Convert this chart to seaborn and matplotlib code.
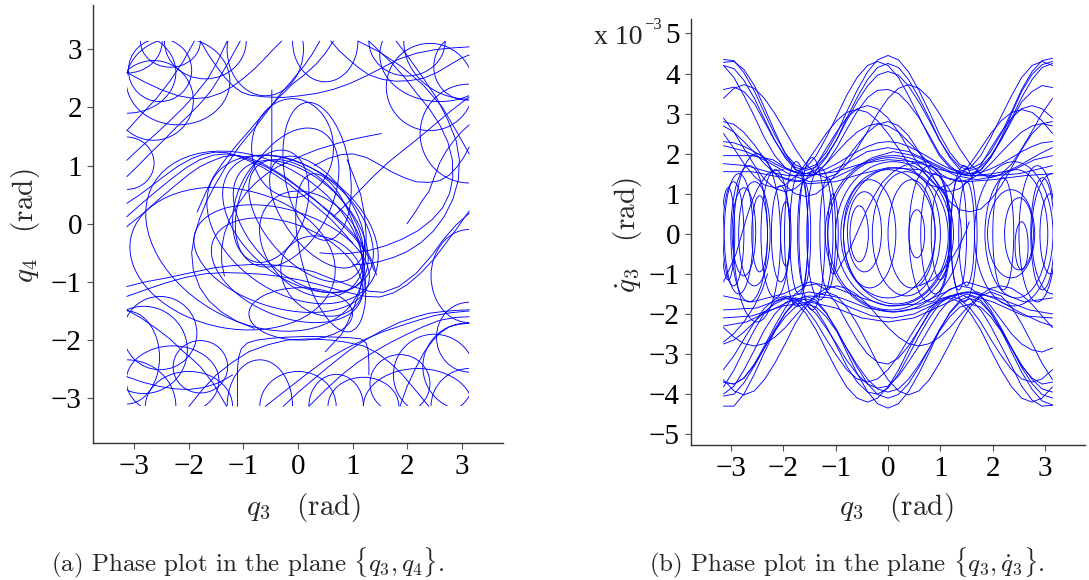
import numpy as np
import pandas as pd
import matplotlib
matplotlib.use("Agg")
import matplotlib.pyplot as plt
import seaborn as sns
from matplotlib.patches import Arc, Rectangle

# ============================================================ data (a)
# open trajectory pieces in the plane {q3, q4} (rad)
a_paths = [
    [(-3.14,-1.08),(-2.8,-1.0),(-2.4,-0.93),(-2.0,-0.85),(-1.55,-0.76),(-1.2,-0.72),(-0.82,-0.7),(-0.45,-0.71),(-0.09,-0.74),(0.3,-0.83),(0.65,-0.96),(1.0,-1.08),(1.3,-1.16),(1.56,-1.18),(1.85,-1.08),(2.17,-0.85),(2.45,-0.55),(2.66,-0.28),(2.9,-0.02),(3.14,0.18)],
    [(-3.14,-1.25),(-2.75,-1.12),(-2.4,-1.01),(-2.05,-0.92),(-1.7,-0.86),(-1.35,-0.84),(-1.0,-0.85),(-0.65,-0.87),(-0.3,-0.91),(0.05,-0.97),(0.4,-1.05),(0.7,-1.13),(1.0,-1.2),(1.25,-1.25),(1.5,-1.26),(1.75,-1.19),(2.0,-1.05),(2.25,-0.85),(2.5,-0.6),(2.7,-0.35),(2.9,-0.1),(3.14,0.22)],
    [(-3.14,0.12),(-2.9,0.32),(-2.65,0.52),(-2.35,0.75),(-2.04,0.97),(-1.8,1.1),(-1.55,1.18),(-1.3,1.2),(-1.06,1.16),(-0.8,1.07),(-0.57,0.97),(-0.33,0.84),(-0.09,0.69),(0.15,0.52),(0.4,0.34),(0.65,0.15),(0.89,-0.05),(1.1,-0.27),(1.26,-0.47),(1.38,-0.68),(1.44,-0.88)],
    [(-3.14,-0.05),(-2.85,0.17),(-2.6,0.38),(-2.3,0.62),(-2.0,0.85),(-1.8,0.98),(-1.6,1.07),(-1.38,1.15),(-1.15,1.18),(-0.92,1.14),(-0.7,1.06),(-0.45,0.93),(-0.2,0.78),(0.05,0.6),(0.3,0.42),(0.55,0.21),(0.8,-0.01),(1.02,-0.22),(1.2,-0.43),(1.33,-0.63),(1.4,-0.82)],
    [(-3.14,0.35),(-2.9,0.5),(-2.7,0.64),(-2.45,0.82),(-2.2,0.99),(-1.95,1.12),(-1.75,1.19),(-1.52,1.23),(-1.3,1.22),(-1.1,1.16),(-0.9,1.08),(-0.65,0.97),(-0.4,0.83),(-0.15,0.67),(0.1,0.48),(0.35,0.28),(0.6,0.08),(0.8,-0.12),(1.0,-0.33)],
    [(1.53,1.55),(1.25,1.5),(0.95,1.44),(0.65,1.36),(0.34,1.27),(0.1,1.18),(-0.15,1.08),(-0.37,0.98),(-0.57,0.86),(-0.78,0.7),(-0.95,0.53),(-1.12,0.31),(-1.25,0.08),(-1.35,-0.17),(-1.4,-0.42),(-1.4,-0.66),(-1.35,-0.9)],
    [(0.3,1.0),(0.55,1.12),(0.8,1.19),(1.01,1.2),(1.25,1.14),(1.45,1.04),(1.7,0.9),(1.95,0.79),(2.17,0.72),(2.4,0.71),(2.6,0.74),(2.78,0.84),(2.92,0.98),(3.04,1.14),(3.14,1.32)],
    [(0.65,0.12),(0.9,0.35),(1.15,0.59),(1.4,0.83),(1.65,1.05),(1.9,1.24),(2.17,1.44),(2.45,1.66),(2.78,1.92),(3.0,2.08),(3.14,2.18)],
    [(1.3,3.14),(1.5,2.96),(1.7,2.78),(1.95,2.52),(2.17,2.25),(2.42,1.96),(2.6,1.7),(2.75,1.4),(2.83,1.1),(2.84,0.8),(2.78,0.52),(2.65,0.27),(2.46,0.07),(2.2,-0.12),(1.9,-0.27),(1.6,-0.38),(1.3,-0.46),(0.95,-0.51),(0.65,-0.52),(0.4,-0.5)],
    [(1.8,3.14),(2.05,2.83),(2.3,2.5),(2.55,2.15),(2.75,1.78),(2.9,1.43),(2.96,1.1),(2.94,0.75),(2.84,0.42),(2.68,0.12),(2.48,-0.13),(2.25,-0.33),(2.0,-0.48),(1.75,-0.58),(1.5,-0.65),(1.25,-0.69),(1.0,-0.71)],
    [(-1.11,-3.14),(-1.11,-2.8),(-1.11,-2.5),(-1.09,-2.3),(-1.04,-2.15),(-0.93,-2.05),(-0.75,-2.0),(-0.5,-1.97),(-0.2,-1.95),(0.1,-1.94),(0.4,-1.94),(0.7,-1.95),(0.95,-1.96),(1.15,-1.98),(1.25,-2.05),(1.29,-2.2),(1.3,-2.4),(1.3,-2.6)],
    [(-0.27,-3.14),(0.0,-2.9),(0.34,-2.63),(0.65,-2.39),(0.95,-2.17),(1.25,-1.99),(1.56,-1.83),(1.85,-1.7),(2.17,-1.6),(2.4,-1.54),(2.66,-1.51),(2.9,-1.49),(3.14,-1.48)],
    [(-0.6,-3.14),(-0.3,-2.92),(0.0,-2.7),(0.25,-2.52),(0.5,-2.35),(0.85,-2.16),(1.2,-2.0),(1.55,-1.86),(1.9,-1.75),(2.2,-1.66),(2.5,-1.58),(2.8,-1.53),(3.14,-1.5)],
    [(-3.14,0.81),(-2.93,1.0),(-2.71,1.21),(-2.46,1.44),(-2.22,1.67),(-2.0,1.87),(-1.79,2.07),(-1.6,2.28),(-1.43,2.53),(-1.26,2.8),(-1.06,3.14)],
    [(-3.14,1.09),(-2.88,1.32),(-2.6,1.55),(-2.35,1.77),(-2.1,2.0),(-1.87,2.24),(-1.65,2.5),(-1.47,2.8),(-1.3,3.14)],
    [(-1.79,3.14),(-1.64,2.9),(-1.49,2.7),(-1.33,2.5),(-1.18,2.36),(-1.03,2.26),(-0.88,2.21),(-0.6,2.18),(-0.27,2.17),(0.04,2.2),(0.34,2.24),(0.65,2.31),(0.95,2.41),(1.25,2.54),(1.56,2.69),(1.85,2.83),(2.17,2.93),(2.5,2.99),(2.8,3.02),(3.14,3.04)],
    [(0.65,3.14),(0.5,2.93),(0.34,2.75),(0.13,2.57),(-0.09,2.41),(-0.33,2.19),(-0.57,1.95),(-0.76,1.75),(-0.94,1.55),(-1.1,1.38),(-1.25,1.21),(-1.4,1.02),(-1.55,0.81),(-1.7,0.52),(-1.85,0.2)],
    [(0.4,3.14),(0.25,2.9),(0.1,2.7),(-0.12,2.45),(-0.35,2.2),(-0.55,1.95),(-0.75,1.7),(-0.93,1.5),(-1.1,1.3),(-1.3,1.02),(-1.5,0.7),(-1.67,0.4),(-1.8,0.1),(-1.9,-0.2),(-1.95,-0.5),(-1.92,-0.8),(-1.8,-1.1),(-1.63,-1.33),(-1.4,-1.52),(-1.12,-1.68),(-0.8,-1.8)],
    [(0.9,1.1),(1.03,0.8),(1.15,0.5),(1.22,0.15),(1.25,-0.2),(1.24,-0.55),(1.2,-0.9),(1.12,-1.2),(1.0,-1.5),(0.9,-1.72),(0.8,-1.9),(0.65,-2.05),(0.5,-2.2)],
    [(1.87,-3.14),(2.0,-2.8),(2.17,-2.46),(2.32,-2.2),(2.48,-2.0),(2.62,-1.87),(2.78,-1.77),(2.95,-1.73),(3.14,-1.71)],
    [(-3.14,-1.48),(-2.88,-1.62),(-2.6,-1.8),(-2.35,-1.98),(-2.1,-2.2),(-1.95,-2.32),(-1.79,-2.46),(-1.55,-2.75),(-1.31,-3.14)],
    [(-3.14,-2.63),(-2.83,-2.73),(-2.53,-2.8),(-2.25,-2.84),(-2.0,-2.85),(-1.75,-2.82),(-1.5,-2.75),(-1.35,-2.68),(-1.2,-2.6)],
    [(-0.48,2.3),(-0.48,1.8),(-0.48,1.3),(-0.5,0.9)],
    [(0.6,3.14),(0.75,2.98),(0.9,2.85),(1.1,2.69),(1.3,2.56),(1.55,2.48),(1.8,2.45),(2.05,2.46),(2.3,2.5),(2.55,2.6),(2.8,2.74),(3.0,2.85),(3.14,2.9)],
    [(-3.14,2.6),(-2.8,2.43),(-2.5,2.3),(-2.2,2.2),(-1.9,2.15),(-1.65,2.17),(-1.4,2.25),(-1.2,2.36),(-1.0,2.5),(-0.8,2.66),(-0.6,2.85),(-0.45,3.0),(-0.3,3.14)],
    [(-2.0,-3.14),(-1.75,-2.85),(-1.5,-2.6),(-1.2,-2.38),(-0.9,-2.2),(-0.55,-2.08),(-0.2,-2.0),(0.2,-1.98),(0.6,-2.0),(0.9,-2.04),(1.2,-2.1),(1.45,-2.22),(1.7,-2.4),(1.9,-2.58),(2.1,-2.8),(2.25,-2.97),(2.4,-3.14)],
    [(0.2,-3.14),(0.5,-2.86),(0.8,-2.6),(1.1,-2.38),(1.4,-2.2),(1.7,-2.04),(2.0,-1.9),(2.3,-1.77),(2.6,-1.66),(2.9,-1.61),(3.14,-1.6)],
    [(2.0,0.0),(2.15,0.2),(2.28,0.4),(2.4,0.55),(2.5,0.8),(2.6,1.05),(2.72,1.25),(2.85,1.42),(3.0,1.58),(3.14,1.7)],
    [(-3.14,1.6),(-2.85,1.9),(-2.6,2.15),(-2.35,2.45),(-2.1,2.8),(-1.9,3.14)],
    [(1.1,3.14),(1.5,2.95),(1.9,2.7),(2.3,2.38),(2.65,2.0),(2.9,1.6),(3.14,1.2)],
]
# loops / arcs of plot (a): centre q3, centre q4, width, height, tilt (deg)
a_loop_q3 = [0.00, 0.05, 0.15, -0.10, 0.35, 0.25, -0.30, -0.20, 0.05, -0.10, 0.35, 0.60, -0.50, -0.80, -0.20, 0.45, -1.20,
             -2.53, -2.65, -2.34, -3.14, -3.14, -2.20, -1.70, -3.14,
             2.42, 3.09, 3.14, 2.00, 2.60, 3.14,
             -2.53, -2.83, -3.14, -1.79, -2.30, -3.14, -2.00,
             3.09, 2.50, 1.87, 3.14, 3.14, 2.20, 1.20, 3.14,
             -0.60, 0.50, 0.00, -0.70, 0.70]
a_loop_q4 = [0.00, -0.05, 0.05, -0.10, 0.20, -0.35, -0.60, -0.80, -1.55, 1.30, 0.90, -0.50, 0.30, -0.30, 0.45, -0.90, -0.60,
             2.64, 2.12, 3.14, 1.04, 2.60, 2.45, 3.14, 3.14,
             2.35, 2.70, 1.55, 3.14, 2.90, 3.14,
             -1.88, -2.17, -2.30, -2.46, -2.70, -3.14, -3.14,
             -2.46, -2.60, -2.75, -1.95, -0.90, -3.14, -3.14, -3.14,
             3.00, 3.14, -3.14, -3.14, -3.14]
a_loop_w = [3.1, 2.9, 2.6, 3.4, 2.3, 2.1, 3.3, 2.9, 1.9, 1.5, 1.2, 1.1, 1.3, 4.2, 1.6, 1.6, 3.8,
            1.16, 1.46, 1.1, 1.0, 1.8, 1.9, 1.5, 1.3,
            1.6, 1.2, 1.8, 1.4, 2.2, 2.4,
            1.35, 1.6, 1.2, 1.0, 1.7, 1.8, 1.6,
            1.6, 1.5, 1.1, 1.2, 1.4, 2.0, 1.3, 1.4,
            1.4, 1.2, 1.4, 1.2, 1.0]
a_loop_h = [1.9, 1.7, 1.45, 2.2, 1.2, 1.6, 1.7, 1.6, 0.9, 1.7, 2.4, 2.8, 2.0, 2.8, 2.6, 1.3, 2.4,
            1.08, 1.37, 0.9, 0.9, 1.4, 1.5, 1.3, 1.1,
            1.5, 1.15, 1.7, 1.2, 1.6, 2.0,
            1.26, 1.5, 1.6, 0.9, 1.2, 1.6, 1.2,
            1.5, 1.4, 1.0, 1.2, 1.6, 1.3, 1.0, 1.3,
            1.6, 1.4, 1.2, 1.6, 1.1]
a_loop_tilt = [-35, -40, -45, -30, -50, -40, -15, -20, 0, 0, 10, 15, -20, -25, -30, -30, -10,
               0, 0, 0, 0, 0, 0, 0, 0,
               0, 0, 0, 0, 0, 0,
               0, 0, 0, 0, 0, 0, 0,
               0, 0, 0, 0, 0, 0, 0, 0,
               0, 0, 0, 0, 0]

# ============================================================ data (b)
# q3 positions of the sampled band points (rad)
band_q3 = [-3.14, -2.94, -2.75, -2.55, -2.36, -2.16, -1.96, -1.77, -1.57, -1.37, -1.18, -0.98, -0.79,
           -0.59, -0.39, -0.20, 0.00, 0.20, 0.39, 0.59, 0.79, 0.98, 1.18, 1.37, 1.57, 1.77, 1.96,
           2.16, 2.36, 2.55, 2.75, 2.94, 3.14]
# q3-dot (units of 1e-3 rad) of the upper bands
upper_bands = [
    [4.35,4.32,4.02,3.56,3.02,2.47,2.01,1.72,1.62,1.73,2.03,2.49,3.04,3.58,4.04,4.34,4.45,4.34,4.04,3.58,3.04,2.49,2.03,1.73,1.62,1.75,2.05,2.5,3.05,3.6,4.05,4.32,4.38],
    [4.2,4.12,3.83,3.38,2.86,2.33,1.89,1.6,1.5,1.6,1.9,2.35,2.88,3.4,3.85,4.15,4.25,4.15,3.85,3.4,2.88,2.35,1.9,1.6,1.5,1.6,1.9,2.35,2.88,3.4,3.85,4.15,4.25],
    [3.6,3.66,3.55,3.25,2.8,2.32,1.93,1.66,1.58,1.67,1.94,2.34,2.82,3.29,3.69,3.96,4.05,3.96,3.69,3.29,2.82,2.34,1.94,1.67,1.58,1.67,1.94,2.34,2.82,3.29,3.55,3.7,3.65],
    [3.38,3.63,3.72,3.63,3.38,3.0,2.56,2.12,1.74,1.49,1.4,1.49,1.74,2.12,2.56,3.0,3.38,3.63,3.72,3.63,3.38,3.0,2.56,2.12,1.74,1.49,1.4,1.49,1.74,2.12,2.56,3.0,3.38],
    [2.8,2.73,2.53,2.22,1.87,1.51,1.2,1.0,0.93,1.0,1.2,1.51,1.87,2.22,2.53,2.73,2.8,2.7,2.45,2.05,1.6,1.15,0.8,0.6,0.55,0.62,0.85,1.2,1.65,2.1,2.5,2.75,2.8],
    [2.89,2.54,2.13,1.71,1.36,1.13,1.05,1.13,1.36,1.71,2.13,2.54,2.89,3.12,3.2,3.12,2.89,2.54,2.13,1.71,1.36,1.13,1.05,1.13,1.36,1.71,2.13,2.54,2.89,3.12,3.2,3.12,2.89],
    [2.69,2.54,2.3,2.03,1.75,1.51,1.36,1.3,1.36,1.51,1.75,2.03,2.3,2.54,2.69,2.75,2.69,2.54,2.3,2.03,1.75,1.51,1.36,1.3,1.36,1.51,1.75,2.03,2.3,2.54,2.69,2.75,2.69],
    [4.28,4.3,4.1,3.7,3.15,2.55,2.0,1.62,1.45,1.5,1.75,2.15,2.6,3.05,3.4,3.58,3.6,3.5,3.25,2.9,2.45,2.0,1.7,1.5,1.45,1.58,1.9,2.4,3.0,3.55,3.98,4.22,4.3],
    [2.5,2.13,1.75,1.43,1.22,1.15,1.22,1.43,1.75,2.13,2.5,2.82,3.03,3.1,3.03,2.82,2.5,2.13,1.75,1.43,1.22,1.15,1.22,1.43,1.75,2.13,2.5,2.82,3.03,3.1,3.03,2.82,2.5],
    [4.2,3.9,3.45,2.93,2.4,1.95,1.65,1.55,1.65,1.95,2.4,2.93,3.45,3.9,4.2,4.3,4.2,3.9,3.45,2.93,2.4,1.95,1.65,1.55,1.65,1.95,2.4,2.93,3.45,3.9,4.2,4.3,4.2],
    [2.3,2.27,2.18,2.05,1.9,1.75,1.62,1.53,1.5,1.53,1.62,1.75,1.9,2.05,2.18,2.27,2.3,2.27,2.18,2.05,1.9,1.75,1.62,1.53,1.5,1.53,1.62,1.75,1.9,2.05,2.18,2.27,2.3],
]
# q3-dot (units of 1e-3 rad) of the lower bands
lower_bands = [
    [-4.3,-4.3,-4.0,-3.5,-2.96,-2.43,-1.97,-1.67,-1.55,-1.66,-1.96,-2.42,-2.95,-3.48,-3.94,-4.24,-4.35,-4.24,-3.94,-3.48,-2.95,-2.42,-1.96,-1.66,-1.55,-1.66,-1.96,-2.42,-2.95,-3.45,-3.88,-4.17,-4.27],
    [-3.64,-3.92,-4.02,-3.92,-3.64,-3.23,-2.74,-2.24,-1.83,-1.55,-1.45,-1.55,-1.83,-2.24,-2.74,-3.23,-3.64,-3.92,-4.02,-3.92,-3.64,-3.23,-2.74,-2.24,-1.83,-1.55,-1.45,-1.55,-1.83,-2.24,-2.74,-3.23,-3.64],
    [-4.05,-4.0,-3.72,-3.3,-2.85,-2.38,-1.98,-1.71,-1.62,-1.71,-1.98,-2.39,-2.86,-3.33,-3.74,-4.01,-4.1,-4.01,-3.74,-3.33,-2.86,-2.39,-1.98,-1.71,-1.62,-1.71,-1.98,-2.39,-2.86,-3.33,-3.74,-4.01,-4.1],
    [-3.39,-3.04,-2.63,-2.21,-1.86,-1.63,-1.55,-1.63,-1.86,-2.21,-2.63,-3.04,-3.39,-3.62,-3.7,-3.62,-3.39,-3.04,-2.63,-2.21,-1.86,-1.63,-1.55,-1.63,-1.86,-2.21,-2.63,-3.04,-3.39,-3.62,-3.7,-3.62,-3.39],
    [-2.75,-2.65,-2.45,-2.2,-1.95,-1.75,-1.62,-1.62,-1.75,-2.0,-2.35,-2.75,-3.15,-3.5,-3.75,-3.85,-3.8,-3.55,-3.2,-2.8,-2.35,-1.95,-1.65,-1.48,-1.45,-1.55,-1.8,-2.15,-2.5,-2.75,-2.9,-2.95,-2.85],
    [-3.7,-3.75,-3.6,-3.25,-2.8,-2.3,-1.85,-1.5,-1.3,-1.25,-1.4,-1.75,-2.2,-2.65,-3.0,-3.2,-3.25,-3.1,-2.8,-2.4,-1.95,-1.6,-1.38,-1.3,-1.35,-1.55,-1.9,-2.35,-2.85,-3.3,-3.6,-3.75,-3.7],
    [-4.0,-3.8,-3.4,-2.9,-2.4,-2.0,-1.72,-1.6,-1.65,-1.9,-2.3,-2.8,-3.3,-3.7,-3.95,-4.0,-3.85,-3.5,-3.05,-2.55,-2.1,-1.75,-1.55,-1.5,-1.62,-1.9,-2.3,-2.8,-3.3,-3.8,-4.15,-4.3,-4.28],
    [-3.82,-3.4,-2.9,-2.4,-1.98,-1.7,-1.6,-1.7,-1.98,-2.4,-2.9,-3.4,-3.82,-4.1,-4.2,-4.1,-3.82,-3.4,-2.9,-2.4,-1.98,-1.7,-1.6,-1.7,-1.98,-2.4,-2.9,-3.4,-3.82,-4.1,-4.2,-4.1,-3.82],
    [-2.34,-2.58,-2.74,-2.8,-2.74,-2.58,-2.34,-2.05,-1.76,-1.52,-1.36,-1.3,-1.36,-1.52,-1.76,-2.05,-2.34,-2.58,-2.74,-2.8,-2.74,-2.58,-2.34,-2.05,-1.76,-1.52,-1.36,-1.3,-1.36,-1.52,-1.76,-2.05,-2.34],
    [-3.7,-3.75,-3.6,-3.27,-2.85,-2.43,-2.07,-1.83,-1.75,-1.83,-2.07,-2.43,-2.85,-3.27,-3.63,-3.87,-3.95,-3.87,-3.63,-3.27,-2.85,-2.43,-2.07,-1.83,-1.75,-1.83,-2.07,-2.43,-2.85,-3.27,-3.63,-3.87,-3.95],
]
# other open pieces of plot (b): (q3, q3-dot)
b_paths = [
    [(-3.14,1.95),(-2.6,1.95),(-2.2,1.85),(-1.9,1.6),(-1.6,1.45),(-1.2,1.5),(-0.8,1.75),(-0.4,2.05),(0.0,2.15),(0.4,2.05),(0.8,1.8),(1.2,1.55),(1.6,1.45),(2.0,1.5),(2.4,1.6),(2.8,1.85),(3.14,1.95)],
    [(-3.14,1.75),(-2.7,1.7),(-2.3,1.55),(-1.9,1.45),(-1.5,1.45),(-1.0,1.55),(-0.5,1.75),(0.0,1.85),(0.5,1.8),(1.0,1.6),(1.5,1.45),(2.0,1.45),(2.5,1.5),(3.14,1.7)],
    [(-3.14,1.55),(-2.6,1.55),(-2.0,1.4),(-1.5,1.25),(-1.0,1.3),(-0.5,1.5),(0.0,1.65),(0.6,1.6),(1.1,1.4),(1.5,1.3),(2.0,1.35),(2.6,1.45),(3.14,1.5)],
    [(-3.14,-1.55),(-2.6,-1.7),(-2.0,-1.5),(-1.5,-1.2),(-1.0,-1.35),(-0.5,-1.6),(0.0,-1.8),(0.6,-1.75),(1.1,-1.45),(1.5,-1.2),(2.0,-1.4),(2.6,-1.7),(3.14,-1.6)],
    [(-3.14,-2.1),(-2.6,-2.05),(-2.0,-1.8),(-1.5,-1.7),(-1.0,-1.85),(-0.5,-2.1),(0.0,-2.2),(0.5,-2.1),(1.0,-1.8),(1.5,-1.5),(2.0,-1.7),(2.6,-2.05),(3.14,-2.1)],
    [(-3.14,-1.9),(-2.5,-1.85),(-2.0,-1.6),(-1.5,-1.45),(-0.9,-1.6),(-0.4,-1.85),(0.1,-1.95),(0.6,-1.85),(1.1,-1.6),(1.5,-1.45),(2.1,-1.6),(2.7,-1.9),(3.14,-2.0)],
    [(-3.14,2.2),(-2.7,2.05),(-2.3,1.8),(-1.9,1.5),(-1.5,1.3),(-1.1,1.35),(-0.7,1.6),(-0.3,1.9),(0.1,2.05),(0.5,1.95),(0.9,1.7),(1.3,1.45),(1.7,1.35),(2.1,1.45),(2.5,1.7),(2.9,2.0),(3.14,2.15)],
    [(-3.14,-2.3),(-2.7,-2.2),(-2.3,-1.95),(-1.9,-1.7),(-1.5,-1.55),(-1.1,-1.6),(-0.7,-1.85),(-0.3,-2.05),(0.1,-2.1),(0.5,-2.0),(0.9,-1.75),(1.3,-1.5),(1.7,-1.45),(2.1,-1.65),(2.5,-1.95),(2.9,-2.2),(3.14,-2.3)],
    [(-3.14,-1.2),(-3.0,-0.8),(-2.9,-0.5),(-2.8,-0.05),(-2.7,0.4),(-2.6,0.8),(-2.5,1.1),(-2.4,1.32),(-2.3,1.5),(-2.15,1.58),(-2.0,1.6)],
    [(-1.0,-1.0),(-0.85,-0.65),(-0.7,-0.3),(-0.55,0.15),(-0.4,0.6),(-0.25,0.98),(-0.1,1.3),(0.1,1.55),(0.3,1.7),(0.55,1.78),(0.8,1.8)],
    [(0.6,-1.3),(0.85,-1.15),(1.05,-0.9),(1.25,-0.55),(1.4,-0.2),(1.5,0.1),(1.55,0.3)],
    [(-3.14,-2.7),(-2.95,-2.5),(-2.75,-2.2),(-2.55,-1.8),(-2.4,-1.4),(-2.3,-1.0)],
]
# vertical loops of plot (b): centre q3, centre q3-dot, width, height
b_loop_q3 = [-3.05, -2.95, -2.85, -2.75, -2.65, -2.55, -2.45, -2.50,
             -2.15, -2.05, -1.95, -1.75, -1.70, -1.60, -1.45, -1.30, -1.15, -1.05,
             0.10, 0.15, 0.05, 0.10, 0.00, -0.45, -0.35, -0.55, 0.45, 0.55, 0.35, 0.90, 1.00, 0.80,
             1.35, 1.50, 1.45, 2.35, 2.45, 2.50, 2.55, 2.40, 2.20, 2.95, 3.10, 2.85, 3.14]
b_loop_y = [0.0, 0.0, 0.0, 0.05, 0.0, 0.0, 0.0, -0.1,
            0.0, 0.0, 0.0, 0.0, 0.0, 0.0, 0.0, 0.0, 0.0, 0.0,
            0.0, -0.05, 0.0, 0.0, 0.0, 0.05, 0.0, 0.0, 0.0, 0.0, 0.0, 0.0, 0.0, 0.0,
            0.0, 0.0, 0.0, 0.0, 0.0, 0.0, -0.3, 0.0, 0.0, 0.0, 0.0, 0.0, 0.0]
b_loop_w = [0.25, 0.4, 0.55, 0.45, 0.7, 0.6, 0.3, 0.9,
            0.55, 0.35, 0.2, 0.45, 0.35, 0.25, 0.5, 0.5, 0.3, 0.2,
            2.2, 2.0, 2.4, 2.6, 1.8, 0.65, 1.0, 0.35, 0.9, 0.3, 1.3, 0.55, 0.35, 0.8,
            0.3, 0.3, 0.5, 0.9, 1.2, 0.55, 0.25, 1.5, 0.4, 0.45, 0.4, 0.7, 0.8]
b_loop_h = [2.3, 2.6, 3.0, 2.2, 3.4, 2.6, 1.9, 4.2,
            3.2, 2.4, 1.6, 3.6, 3.0, 2.6, 3.8, 3.3, 2.8, 2.0,
            3.6, 3.4, 3.8, 3.9, 3.2, 2.0, 2.7, 1.4, 2.7, 1.2, 3.1, 3.0, 2.3, 3.4,
            2.8, 2.6, 3.4, 2.2, 3.2, 1.8, 1.2, 3.6, 2.8, 2.8, 2.0, 3.4, 3.0]

x_ticks = [-3, -2, -1, 0, 1, 2, 3]
a_y_ticks = [-3, -2, -1, 0, 1, 2, 3]
b_y_ticks = [-5, -4, -3, -2, -1, 0, 1, 2, 3, 4, 5]

# ============================================================ style
BLUE = "#0000ff"
LW = 0.65
sns.set_theme(style="ticks")
plt.rcParams["font.family"] = ["Liberation Serif", "DejaVu Serif"]
plt.rcParams["mathtext.fontset"] = "cm"
plt.rcParams["axes.unicode_minus"] = True


def paths_frame(paths, xname, yname, offset=0):
    rows = []
    for i, p in enumerate(paths):
        for j, (x, y) in enumerate(p):
            rows.append((i + offset, j, x, y))
    return pd.DataFrame(rows, columns=["curve", "order", xname, yname])


def bands_frame(xs, bands, xname, yname, offset=0):
    rows = []
    for i, b in enumerate(bands):
        for j, (x, y) in enumerate(zip(xs, b)):
            rows.append((i + offset, j, x, y))
    return pd.DataFrame(rows, columns=["curve", "order", xname, yname])


def add_loops(ax, cx, cy, w, h, tilt, clip_box):
    clip = Rectangle(clip_box[0], clip_box[1], clip_box[2], transform=ax.transData)
    for x0, y0, ww, hh, t in zip(cx, cy, w, h, tilt):
        e = Arc((x0, y0), ww, hh, angle=t, theta1=0, theta2=360, ec=BLUE, lw=LW)
        ax.add_patch(e)
        e.set_clip_path(clip)


def style_axes(ax):
    sns.despine(ax=ax)
    for s in ("left", "bottom"):
        ax.spines[s].set_color("#333333")
        ax.spines[s].set_linewidth(1.0)
    ax.tick_params(direction="out", length=4, width=0.8, color="#555555",
                   labelsize=21, pad=4, labelcolor="black")
    ax.set_xlabel("")
    ax.set_ylabel("")
    ax.grid(False)


fig = plt.figure(figsize=(10.89, 5.80), dpi=100)

# ============================================================ panel (a)
axa = fig.add_axes([93 / 1089, 137 / 580, 410 / 1089, 438 / 580])
dfa = paths_frame(a_paths, "q3", "q4")
sns.lineplot(data=dfa, x="q3", y="q4", units="curve", estimator=None, sort=False,
             color=BLUE, lw=LW, ax=axa, legend=False)
add_loops(axa, a_loop_q3, a_loop_q4, a_loop_w, a_loop_h, a_loop_tilt,
          ((-np.pi, -np.pi), 2 * np.pi, 2 * np.pi))
axa.set_xlim(-3.76, 3.76)
axa.set_ylim(-3.77, 3.76)
axa.set_xticks(x_ticks)
axa.set_yticks(a_y_ticks)
style_axes(axa)

# ============================================================ panel (b)
axb = fig.add_axes([691 / 1089, 135 / 580, 394 / 1089, 426 / 580])
dfb = pd.concat([
    bands_frame(band_q3, upper_bands, "q3", "q3dot", 0),
    bands_frame(band_q3, lower_bands, "q3", "q3dot", 100),
    paths_frame(b_paths, "q3", "q3dot", 200),
], ignore_index=True)
sns.lineplot(data=dfb, x="q3", y="q3dot", units="curve", estimator=None, sort=False,
             color=BLUE, lw=LW, ax=axb, legend=False)
add_loops(axb, b_loop_q3, b_loop_y, b_loop_w, b_loop_h, [0] * len(b_loop_w),
          ((-np.pi, -10), 2 * np.pi, 20))
axb.set_xlim(-3.76, 3.76)
axb.set_ylim(-5.27, 5.36)
axb.set_xticks(x_ticks)
axb.set_yticks(b_y_ticks)
style_axes(axb)

# ============================================================ labels
fig.text(26 / 1089, 1 - 226 / 580, r"$q_4\quad(\mathrm{rad})$", rotation=90,
         ha="center", va="center", fontsize=21)
fig.text(303 / 1089, 1 - 507 / 580, r"$q_3\quad(\mathrm{rad})$",
         ha="center", va="center", fontsize=21)
fig.text(628 / 1089, 1 - 235 / 580, r"$\dot{q}_3\quad(\mathrm{rad})$", rotation=90,
         ha="center", va="center", fontsize=21)
fig.text(896 / 1089, 1 - 507 / 580, r"$q_3\quad(\mathrm{rad})$",
         ha="center", va="center", fontsize=21)
fig.text(642 / 1089, 1 - 38 / 580, "x 10", ha="right", va="center", fontsize=20)
fig.text(644 / 1089, 1 - 25 / 580, "\u22123", ha="left", va="center", fontsize=12)

fig.text(248 / 1089, 1 - 563 / 580, r"(a) Phase plot in the plane $\{q_3, q_4\}$.",
         ha="center", va="center", fontsize=18, family="cmr10")
fig.text(847 / 1089, 1 - 563 / 580, r"(b) Phase plot in the plane $\{q_3, \dot{q}_3\}$.",
         ha="center", va="center", fontsize=18, family="cmr10")

fig.savefig("out.png", dpi=100)
